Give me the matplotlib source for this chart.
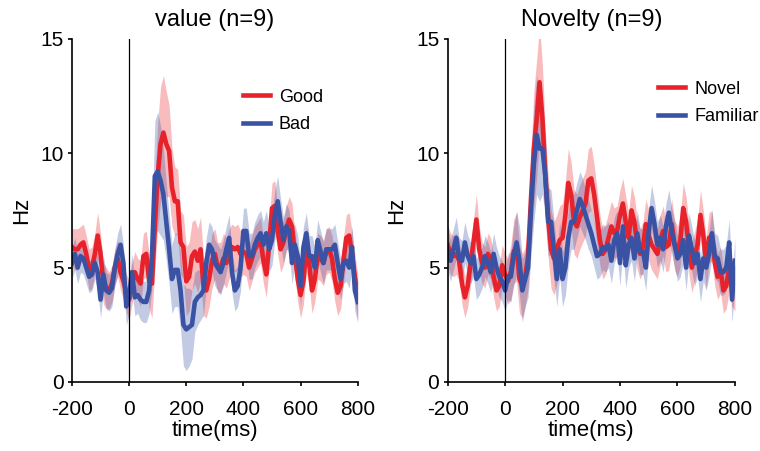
import numpy as np
import matplotlib.pyplot as plt

plt.rcParams['font.family'] = ['Liberation Sans', 'DejaVu Sans']
plt.rcParams['axes.unicode_minus'] = False

# time axis, 10 ms bins from -200 to 800
time_ms = list(range(-200, 801, 10))

good = [5.9, 5.8, 5.8, 6.0, 6.1, 5.6, 4.9, 5.0, 5.6, 6.4, 5.6, 4.3, 4.1, 4.0, 4.3, 5.0, 5.4, 4.8, 4.4, 3.9,
        3.6, 4.3, 4.8, 4.5, 4.3, 5.5, 5.6, 4.4, 4.3, 6.8, 9.0, 10.4, 10.9, 10.4, 10.1, 8.5, 7.9, 7.9, 6.1, 5.9,
        4.4, 4.6, 5.5, 5.7, 5.3, 5.8, 4.2, 4.0, 4.5, 5.3, 5.6, 5.0, 5.0, 5.4, 5.2, 5.6, 5.9, 5.8, 5.9, 5.6,
        5.7, 5.6, 5.0, 5.4, 5.8, 6.0, 6.2, 5.3, 4.7, 6.0, 7.6, 7.7, 6.6, 5.8, 6.1, 6.7, 7.1, 6.8, 5.6, 4.5,
        3.8, 4.4, 5.8, 5.2, 4.0, 4.5, 5.5, 5.4, 5.2, 5.7, 5.8, 5.4, 4.5, 3.9, 4.2, 5.3, 6.3, 6.4, 5.6, 4.6,
        3.7]
good_sem = [0.8, 0.9, 0.9, 0.8, 0.8, 0.8, 0.9, 0.9, 0.9, 1.0, 0.9, 0.9, 0.9, 0.8, 0.8, 0.8, 0.8, 0.8, 0.8, 0.8,
            0.9, 0.9, 0.9, 0.9, 1.0, 1.0, 1.0, 1.2, 1.5, 1.9, 2.3, 2.5, 2.5, 2.3, 2.0, 1.7, 1.5, 1.4, 1.4, 1.4,
            1.5, 1.5, 1.5, 1.4, 1.4, 1.4, 1.3, 1.2, 1.2, 1.2, 1.1, 1.1, 1.1, 1.1, 1.1, 1.1, 1.0, 1.0, 1.0, 1.0,
            1.0, 1.0, 1.0, 1.0, 1.0, 1.0, 1.0, 1.0, 1.0, 1.0, 1.1, 1.1, 1.0, 1.0, 1.0, 1.0, 1.0, 1.0, 1.0, 1.0,
            1.0, 1.0, 1.0, 1.0, 1.0, 1.0, 1.0, 1.0, 1.0, 1.0, 1.0, 1.0, 1.0, 1.0, 1.0, 1.0, 1.0, 1.0, 1.0, 1.0,
            1.0]
bad = [5.2, 5.6, 5.0, 5.5, 5.4, 5.0, 4.6, 4.7, 5.2, 4.8, 3.6, 4.7, 4.0, 3.9, 4.1, 5.0, 5.6, 6.0, 5.2, 3.3,
       3.7, 4.8, 3.7, 3.8, 3.6, 3.5, 3.5, 4.0, 5.5, 9.0, 9.2, 8.8, 8.2, 7.0, 5.8, 4.5, 4.9, 4.9, 4.0, 2.5,
       2.3, 2.4, 2.5, 3.5, 3.7, 3.8, 4.0, 5.2, 6.0, 5.8, 5.2, 5.0, 4.8, 5.2, 5.8, 6.3, 4.8, 4.0, 4.2, 5.0,
       6.6, 6.6, 5.5, 5.5, 6.0, 6.3, 6.5, 6.0, 6.5, 5.8, 6.2, 7.3, 7.9, 7.0, 6.2, 6.8, 6.6, 5.2, 6.0, 5.5,
       4.2, 5.9, 6.5, 5.5, 5.5, 5.0, 6.2, 5.7, 5.2, 5.8, 5.8, 5.8, 6.0, 5.2, 4.5, 5.2, 5.3, 5.0, 5.9, 4.0,
       3.5]
bad_sem = [0.7, 0.7, 0.7, 0.7, 0.7, 0.7, 0.7, 0.7, 0.7, 0.8, 0.8, 0.8, 0.8, 0.8, 0.8, 0.8, 0.9, 0.9, 0.8, 0.8,
           0.8, 0.8, 0.8, 0.8, 0.9, 0.9, 0.9, 1.0, 1.4, 2.4, 2.6, 2.4, 2.0, 1.7, 1.5, 1.5, 1.6, 1.6, 1.7, 1.8,
           1.8, 1.7, 1.5, 1.3, 1.2, 1.1, 1.1, 1.1, 1.0, 1.0, 1.0, 1.0, 1.0, 1.0, 1.0, 1.0, 0.9, 0.9, 0.9, 1.0,
           1.0, 1.0, 1.0, 1.0, 1.0, 1.0, 1.0, 1.0, 1.0, 1.0, 1.1, 1.1, 1.1, 1.0, 1.0, 1.0, 0.9, 0.9, 0.9, 0.9,
           0.9, 0.9, 0.9, 0.9, 0.9, 0.9, 0.9, 0.9, 0.9, 0.9, 0.9, 0.9, 0.9, 0.9, 0.9, 0.9, 0.9, 0.9, 0.9, 0.9,
           0.9]

novel = [6.0, 5.6, 5.5, 5.6, 5.3, 4.3, 3.7, 4.2, 5.2, 6.1, 7.1, 5.8, 5.2, 5.0, 5.6, 5.4, 4.6, 4.0, 4.2, 5.1,
         4.7, 4.4, 4.8, 5.7, 5.9, 4.5, 4.2, 4.6, 5.5, 8.0, 10.2, 11.5, 13.1, 11.5, 9.0, 7.2, 5.8, 5.4, 5.8, 6.2,
         6.3, 7.3, 8.7, 8.2, 7.0, 6.8, 7.2, 7.5, 7.8, 8.8, 8.9, 8.2, 7.2, 6.2, 5.6, 5.8, 6.3, 6.8, 6.5, 6.6,
         7.3, 7.8, 7.0, 6.3, 7.5, 7.0, 6.0, 5.6, 5.9, 6.9, 6.4, 6.0, 5.8, 5.6, 6.2, 6.6, 5.9, 6.0, 6.9, 6.0,
         5.7, 6.2, 7.6, 7.0, 5.8, 5.0, 5.5, 6.0, 7.3, 6.4, 5.2, 6.3, 6.4, 5.2, 4.6, 4.9, 4.0, 4.2, 5.0, 4.3,
         4.1]
novel_sem = [0.9, 0.9, 0.9, 0.9, 0.9, 0.9, 0.9, 0.9, 0.9, 1.0, 1.1, 1.0, 0.9, 0.9, 0.9, 0.9, 0.9, 0.9, 0.9, 0.9,
             0.9, 1.0, 1.2, 1.4, 1.5, 1.5, 1.4, 1.3, 1.4, 2.0, 2.5, 2.6, 2.5, 2.3, 2.0, 1.8, 1.7, 1.6, 1.5, 1.5,
             1.5, 1.5, 1.5, 1.4, 1.4, 1.4, 1.4, 1.4, 1.4, 1.4, 1.4, 1.3, 1.2, 1.1, 1.1, 1.1, 1.1, 1.1, 1.1, 1.1,
             1.1, 1.1, 1.1, 1.1, 1.1, 1.1, 1.1, 1.1, 1.1, 1.1, 1.1, 1.1, 1.1, 1.1, 1.1, 1.1, 1.1, 1.1, 1.1, 1.1,
             1.1, 1.1, 1.1, 1.1, 1.1, 1.1, 1.1, 1.1, 1.1, 1.1, 1.1, 1.1, 1.1, 1.0, 1.0, 1.0, 1.0, 1.0, 1.0, 1.0,
             1.0]
familiar = [5.8, 5.3, 5.8, 6.3, 5.4, 5.3, 6.1, 5.5, 5.2, 5.5, 4.5, 4.7, 5.0, 5.5, 5.2, 4.8, 5.6, 5.0, 4.6, 4.4,
            4.0, 4.6, 4.6, 5.5, 6.1, 5.3, 4.0, 4.5, 5.0, 7.5, 9.5, 10.8, 10.2, 10.2, 9.0, 7.0, 7.0, 5.8, 4.5, 5.8,
            4.5, 5.0, 6.3, 7.0, 7.0, 7.5, 8.0, 7.7, 7.3, 6.9, 6.5, 6.0, 5.5, 5.6, 5.9, 5.8, 6.0, 5.3, 6.2, 6.5,
            5.2, 6.8, 5.1, 6.0, 6.3, 5.4, 6.5, 5.7, 5.7, 5.0, 6.6, 7.6, 6.9, 6.0, 6.3, 5.8, 6.8, 7.4, 6.6, 6.0,
            5.4, 5.6, 6.2, 5.0, 6.4, 5.8, 5.2, 5.6, 4.5, 5.4, 5.0, 5.6, 6.5, 5.5, 5.4, 4.8, 4.8, 5.0, 6.1, 3.6,
            5.3]
familiar_sem = [0.9, 0.9, 0.9, 0.9, 0.9, 0.9, 0.9, 0.9, 0.9, 0.9, 0.9, 0.9, 0.9, 0.9, 0.9, 0.9, 0.9, 0.9, 0.9, 0.9,
                0.9, 1.0, 1.1, 1.3, 1.4, 1.5, 1.4, 1.2, 1.3, 2.0, 2.5, 2.6, 2.3, 2.0, 1.8, 1.5, 1.4, 1.3, 1.2, 1.2,
                1.2, 1.2, 1.2, 1.2, 1.2, 1.2, 1.2, 1.2, 1.1, 1.1, 1.0, 1.0, 1.0, 1.0, 1.0, 1.0, 1.0, 1.0, 1.0, 1.0,
                1.0, 1.0, 1.0, 1.0, 1.0, 1.0, 1.0, 1.0, 1.0, 1.0, 1.0, 1.0, 1.0, 1.0, 1.0, 1.0, 1.0, 1.0, 1.0, 1.0,
                1.0, 1.0, 1.0, 1.0, 1.0, 1.0, 1.0, 1.0, 1.0, 1.0, 1.0, 1.0, 1.0, 1.0, 1.0, 1.0, 1.0, 1.0, 1.0, 1.0,
                1.0]

red = '#e8222a'
blue = '#3a52a4'

fig = plt.figure(figsize=(7.6, 4.51), dpi=100)
ax1 = fig.add_axes([0.0947, 0.153, 0.376, 0.761])
ax2 = fig.add_axes([0.589, 0.153, 0.378, 0.761])

panels = [
    (ax1, 'value (n=9)', [('Good', good, good_sem, red), ('Bad', bad, bad_sem, blue)], (0.598, 0.855)),
    (ax2, 'Novelty (n=9)', [('Novel', novel, novel_sem, red), ('Familiar', familiar, familiar_sem, blue)], (0.732, 0.878)),
]

t = np.array(time_ms)
for ax, title, series, leg_pos in panels:
    for name, m, s, c in series:
        m = np.array(m)
        s = np.array(s)
        ax.fill_between(t, m - s, m + s, color=c, alpha=0.3, lw=0)
    for name, m, s, c in series:
        ax.plot(t, m, color=c, lw=3.3, label=name, solid_joinstyle='round')
    ax.axvline(0, color='black', lw=0.9)
    ax.set_xlim(-200, 800)
    ax.set_ylim(0, 15)
    ax.set_xticks([-200, 0, 200, 400, 600, 800])
    ax.set_yticks([0, 5, 10, 15])
    ax.spines['top'].set_visible(False)
    ax.spines['right'].set_visible(False)
    ax.spines['left'].set_linewidth(1.2)
    ax.spines['bottom'].set_linewidth(1.2)
    ax.tick_params(labelsize=15, length=3, width=1.2, pad=3)
    ax.tick_params(axis='x', pad=10)
    ax.set_title(title, fontsize=17, pad=9)
    ax.set_xlabel('time(ms)', fontsize=16, labelpad=1)
    ax.set_ylabel('Hz', fontsize=16, labelpad=6)
    ax.legend(loc='upper left', bbox_to_anchor=leg_pos, frameon=False, fontsize=13,
              borderpad=0, borderaxespad=0,
              handlelength=1.5, handletextpad=0.5, labelspacing=0.6)

plt.savefig('out.png', dpi=100)
plt.close()
